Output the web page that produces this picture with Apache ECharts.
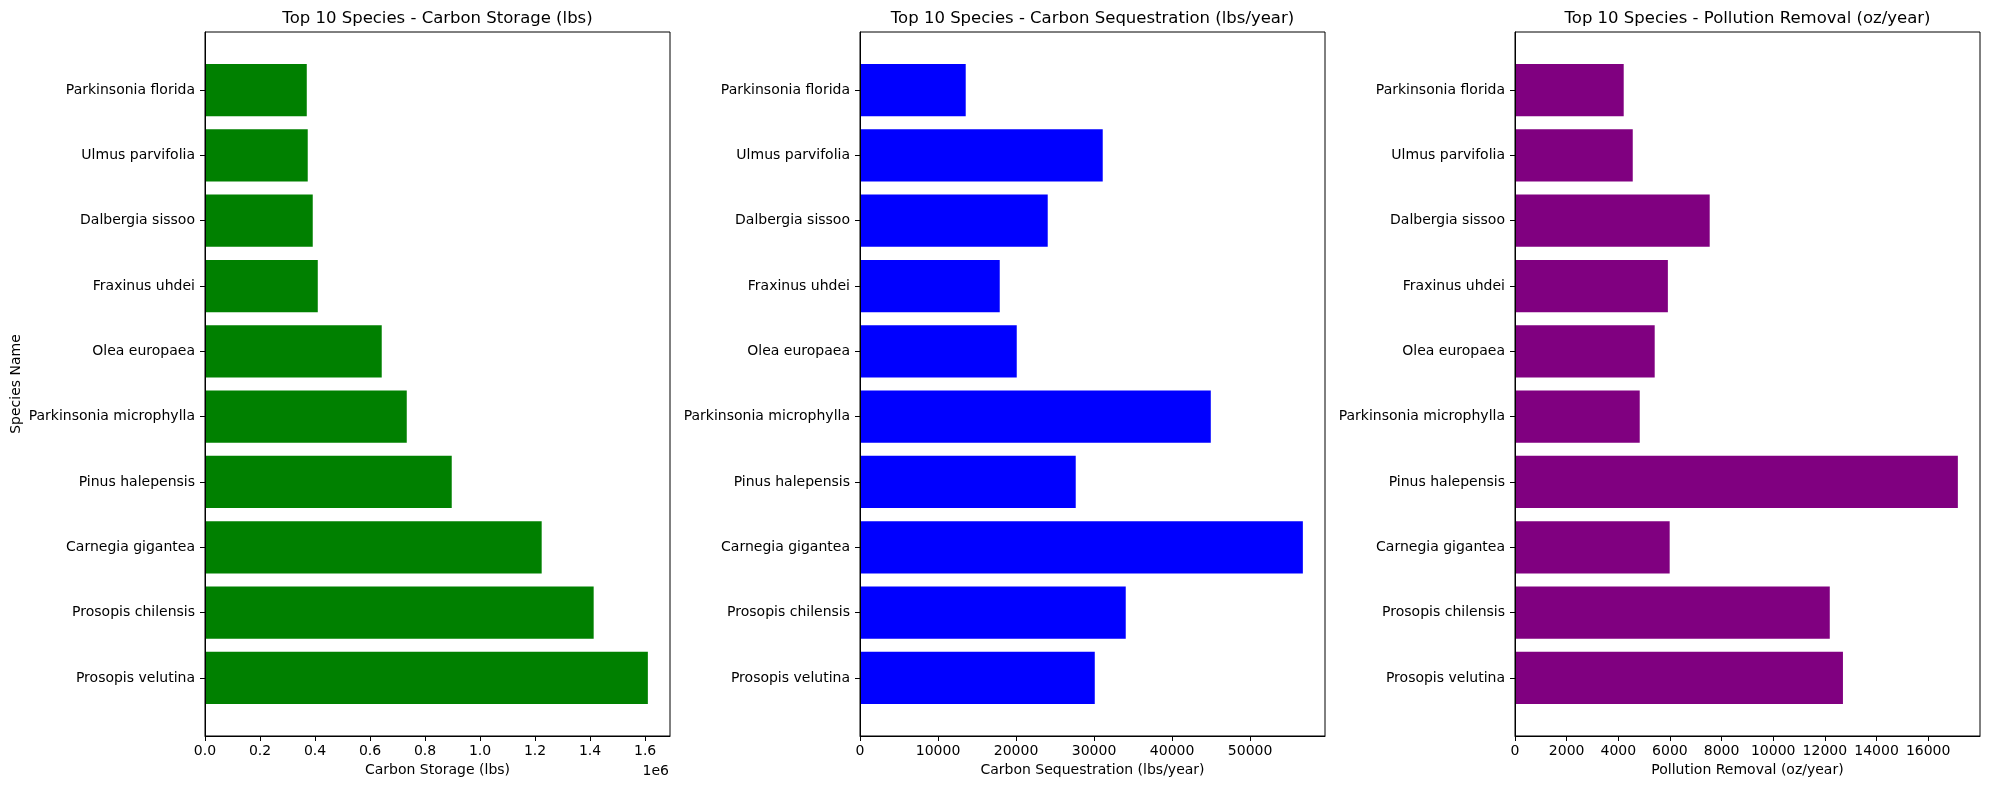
<!DOCTYPE html>
<html>
<head>
<meta charset="utf-8">
<title>Top 10 Species</title>
<script src="https://cdn.jsdelivr.net/npm/echarts@6/dist/echarts.min.js"></script>
<style>
  html, body { margin: 0; padding: 0; background: #fff; }
  #chart { width: 1990px; height: 790px; }
</style>
</head>
<body>
<div id="chart"></div>
<script>
// bottom to top, like matplotlib barh
const species = ['Prosopis velutina', 'Prosopis chilensis', 'Carnegia gigantea', 'Pinus halepensis',
  'Parkinsonia microphylla', 'Olea europaea', 'Fraxinus uhdei', 'Dalbergia sissoo',
  'Ulmus parvifolia', 'Parkinsonia florida'];
const carbonStorage = [1610000, 1413000, 1224000, 897000, 733500, 642500, 410000, 391700, 373500, 370000];
const carbonSequestration = [30090, 34060, 56760, 27650, 44960, 20090, 17910, 24060, 31110, 13550];
const pollutionRemoval = [12700, 12190, 5990, 17150, 4830, 5410, 5920, 7540, 4560, 4210];
const storageTicks = [0, 200000, 400000, 600000, 800000, 1000000, 1200000, 1400000, 1600000];
const sequestrationTicks = [0, 10000, 20000, 30000, 40000, 50000];
const pollutionTicks = [0, 2000, 4000, 6000, 8000, 10000, 12000, 14000, 16000];
const speciesTicks = [0, 1, 2, 3, 4, 5, 6, 7, 8, 9];

const font = 'DejaVu Sans';
const textStyle = { fontFamily: font, fontSize: 14, color: '#000' };
const black = { lineStyle: { color: '#000', width: 1 } };

// plot boxes (px)
const panels = [
  { left: 205, right: 1320, title: 'Top 10 Species - Carbon Storage (lbs)', name: 'Carbon Storage (lbs)',
    data: carbonStorage, ticks: storageTicks, color: '#008000', fmt: v => (v / 1e6).toFixed(1) },
  { left: 860, right: 665, title: 'Top 10 Species - Carbon Sequestration (lbs/year)', name: 'Carbon Sequestration (lbs/year)',
    data: carbonSequestration, ticks: sequestrationTicks, color: '#0000ff', fmt: v => String(v) },
  { left: 1515, right: 10, title: 'Top 10 Species - Pollution Removal (oz/year)', name: 'Pollution Removal (oz/year)',
    data: pollutionRemoval, ticks: pollutionTicks, color: '#800080', fmt: v => String(v) },
];
const gridTop = 32;
const gridBottom = 54;

function renderBar(params, api) {
  const idx = api.value(0);
  const val = api.value(1);
  const p0 = api.coord([0, idx + 0.4]);
  const p1 = api.coord([val, idx - 0.4]);
  return {
    type: 'rect',
    shape: { x: p0[0], y: p0[1], width: p1[0] - p0[0], height: p1[1] - p0[1] },
    style: { fill: api.visual('color') }
  };
}

const chart = echarts.init(document.getElementById('chart'), null, { renderer: 'canvas' });

const option = {
  animation: false,
  backgroundColor: '#fff',
  title: [],
  grid: [],
  xAxis: [],
  yAxis: [],
  series: []
};

panels.forEach((p, i) => {
  const center = 1990 - p.right - (1990 - p.left - p.right) / 2;
  option.title.push({
    text: p.title,
    left: center,
    top: 10,
    padding: 0,
    textAlign: 'center',
    textStyle: { fontFamily: font, fontSize: 16.5, fontWeight: 'normal', color: '#000' }
  });
  option.grid.push({
    left: p.left,
    right: p.right,
    top: gridTop,
    bottom: gridBottom,
    show: true,
    borderColor: '#000',
    borderWidth: 1,
    backgroundColor: '#fff'
  });
  option.xAxis.push({
    type: 'value',
    gridIndex: i,
    min: 0,
    max: v => v.max * 1.05,
    z: 5,
    name: p.name,
    nameLocation: 'middle',
    nameGap: 26,
    nameTextStyle: textStyle,
    axisLine: { show: true, onZero: false, ...black },
    axisTick: { show: true, length: 5, customValues: p.ticks, ...black },
    axisLabel: { ...textStyle, margin: 8, customValues: p.ticks, formatter: p.fmt },
    splitLine: { show: false }
  });
  option.yAxis.push({
    type: 'value',
    gridIndex: i,
    min: -0.89,
    max: 9.89,
    z: 5,
    name: i === 0 ? 'Species Name' : '',
    nameLocation: 'middle',
    nameGap: 182,
    nameTextStyle: textStyle,
    axisLine: { show: true, onZero: false, ...black },
    axisTick: { show: true, length: 5, customValues: speciesTicks, ...black },
    axisLabel: { ...textStyle, margin: 10, customValues: speciesTicks, formatter: v => species[v] },
    splitLine: { show: false }
  });
  option.series.push({
    type: 'custom',
    xAxisIndex: i,
    yAxisIndex: i,
    itemStyle: { color: p.color },
    encode: { x: 1, y: 0 },
    renderItem: renderBar,
    data: p.data.map((v, k) => [k, v])
  });
});

// matplotlib offset text for the first axis
option.title.push({
  text: '1e6',
  left: 669,
  top: 764,
  padding: 0,
  textAlign: 'right',
  textStyle: { fontFamily: font, fontSize: 14, fontWeight: 'normal', color: '#000' }
});

chart.setOption(option);
</script>
</body>
</html>
